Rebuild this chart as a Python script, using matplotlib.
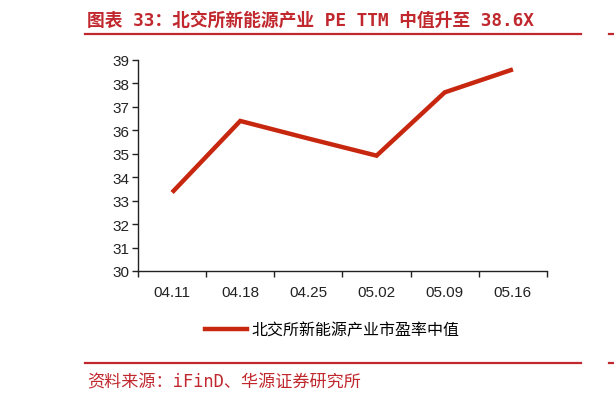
import matplotlib
matplotlib.use("Agg")
import matplotlib.pyplot as plt
from matplotlib.lines import Line2D

plt.rcParams['font.family'] = ['Noto Sans CJK SC', 'DejaVu Sans']

categories = ["04.11", "04.18", "04.25", "05.02", "05.09", "05.16"]
values = [33.35, 36.4, 35.65, 34.92, 37.62, 38.6]
series_name = "北交所新能源产业市盈率中值"
title = "图表 33：北交所新能源产业 PE TTM 中值升至 38.6X"
source = "资料来源：iFinD、华源证券研究所"

W, H = 614, 402
fig = plt.figure(figsize=(W/100, H/100), dpi=100)
ax = fig.add_axes([138/W, 1-272/H, (547-138)/W, (272-61)/H])

x = list(range(len(categories)))
ax.plot(x, values, color='#C8270F', lw=3.2, solid_capstyle='butt', solid_joinstyle='miter')
ax.set_xlim(-0.5, len(categories)-0.5)
ax.set_ylim(30, 39)
ax.set_yticks(range(30, 40))
ax.set_xticks(x)
ax.set_xticklabels(categories)
ax.set_xticks([i-0.5 for i in range(len(categories)+1)], minor=True)
ax.tick_params(axis='y', labelsize=11, length=4.3, width=1, direction='out', pad=2, colors='#222222')
ax.tick_params(axis='x', which='major', length=0, labelsize=11, pad=10, colors='#222222')
ax.tick_params(axis='x', which='minor', length=4.5, width=1, direction='out', color='#222222')
for lab in ax.get_xticklabels() + ax.get_yticklabels():
    lab.set_family(['Liberation Sans', 'DejaVu Sans'])
for s in ['top', 'right']:
    ax.spines[s].set_visible(False)
for s in ['left', 'bottom']:
    ax.spines[s].set_color('#222222')
    ax.spines[s].set_linewidth(1)

# legend
handle = Line2D([], [], color='#C8270F', lw=3.2)
fig.legend([handle], [series_name], loc='center left', bbox_to_anchor=(205/W, 1-331/H),
           frameon=False, fontsize=11.5, handlelength=2.6, handletextpad=0.3,
           borderpad=0, borderaxespad=0)

red = '#C0282E'
mono = ['DejaVu Sans Mono', 'Noto Sans CJK SC']
fig.text(87/W, 1-21/H, title, color=red, fontsize=12.8, va='center', ha='left',
         family=mono, fontweight='bold')
fig.add_artist(Line2D([85/W, 581/W], [1-35/H, 1-35/H], color=red, lw=1.6))
fig.add_artist(Line2D([609/W, 1.0], [1-35/H, 1-35/H], color=red, lw=1.6))
fig.add_artist(Line2D([85/W, 581/W], [1-364/H, 1-364/H], color=red, lw=1.6))
fig.add_artist(Line2D([609/W, 1.0], [1-364/H, 1-364/H], color=red, lw=1.6))
fig.text(87/W, 1-382/H, source, color=red, fontsize=12.3, va='center', ha='left', family=mono)

fig.savefig('out.png', dpi=100)
